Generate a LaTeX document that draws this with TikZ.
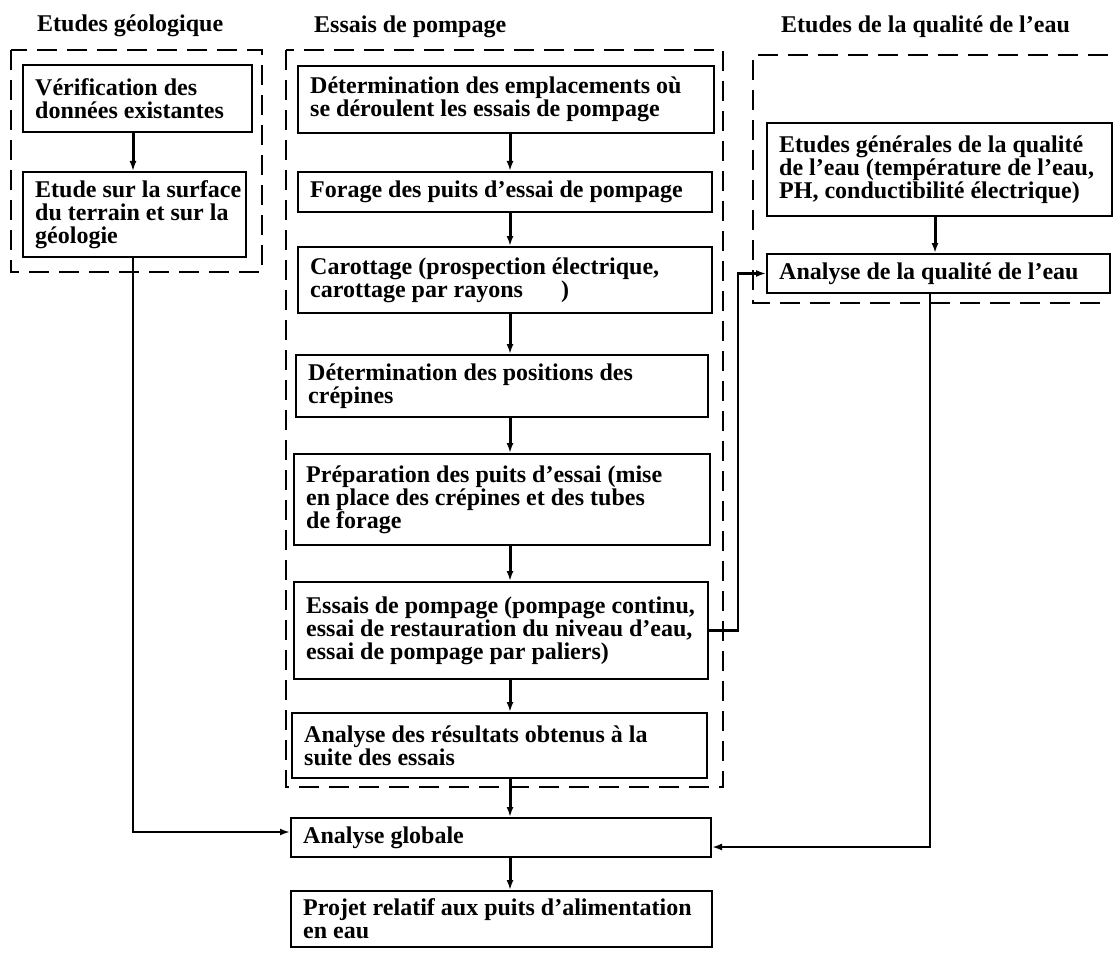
\documentclass[tikz,border=0pt]{standalone}
\usepackage{fontspec}
\setmainfont{Liberation Serif}
\usetikzlibrary{arrows.meta,calc}
\tikzset{
  box/.style={draw, line width=2pt, inner sep=0pt},
  txt/.style={anchor=west, align=left, inner sep=0pt, font=\bfseries\fontsize{24}{23}\selectfont},
  ttl/.style={anchor=base west, inner sep=0pt, font=\bfseries\fontsize{24}{23}\selectfont},
  grp/.style={line width=2.5pt, dash pattern=on 20pt off 10pt},
  arr/.style={line width=3pt, -{Latex[length=10pt,width=7pt]}},
  link/.style={line width=2.5pt, -{Latex[length=10pt,width=7pt]}}
}
\newcommand\mkbox[6]{%
  \node[box, minimum width={#4-#2}, minimum height={#5-#3}] (#1) at ({(#2+#4)/2},{(#3+#5)/2}) {};
  \node[txt] (#1t) at ([xshift=13pt]#1.west) {#6};}
\begin{document}
\begin{tikzpicture}[x=1pt,y=-1pt]
\useasboundingbox (0,0) rectangle (1115,952);
% titles
\node[ttl] (t1) at (37,32) {Etudes géologique};
\node[ttl] (t2) at (314,33) {Essais de pompage};
\node[ttl] (t3) at (781,33) {Etudes de la qualité de l’eau};
% group frames
\draw[grp] (11,50) rectangle (262,272);
\draw[grp] (286,50) rectangle (723,787);
\draw[grp] (1108,55) -- (753,55) -- (753,303) -- (1108,303);
% geology
\mkbox{v1}{23}{65}{252}{132}{Vérification des\\données existantes}
\mkbox{v2}{23}{172}{246}{257}{Etude sur la surface\\du terrain et sur la\\géologie}
% pumping
\mkbox{p1}{298}{66}{714}{133}{Détermination des emplacements où\\se déroulent les essais de pompage}
\mkbox{p2}{298}{172}{712}{212}{Forage des puits d’essai de pompage}
\mkbox{p3}{298}{247}{712}{313}{Carottage (prospection électrique,\\carottage par rayons\hspace{38pt})}
\mkbox{p4}{296}{355}{708}{417}{Détermination des positions des\\crépines}
\mkbox{p5}{294}{454}{710}{545}{Préparation des puits d’essai (mise\\en place des crépines et des tubes\\de forage}
\mkbox{p6}{294}{582}{708}{679}{Essais de pompage (pompage continu,\\essai de restauration du niveau d’eau,\\essai de pompage par paliers)}
\mkbox{p7}{292}{713}{707}{778}{Analyse des résultats obtenus à la\\suite des essais}
% water quality
\mkbox{q1}{767}{123}{1112}{216}{Etudes générales de la qualité\\de l’eau (température de l’eau,\\PH, conductibilité électrique)}
\mkbox{q2}{767}{254}{1110}{293}{Analyse de la qualité de l’eau}
% final
\mkbox{a1}{291}{818}{711}{857}{Analyse globale}
\mkbox{a2}{291}{891}{712}{947}{Projet relatif aux puits d’alimentation\\en eau}
% connector guide coordinates
\coordinate (cx) at (510,0);
\coordinate (lx) at (133,0);
\coordinate (rx) at (930,0);
\coordinate (qx) at (935,0);
\coordinate (mx) at (738,0);
% arrows
\draw[arr] (v1.south -| lx) -- (v2.north -| lx);
\draw[arr] (p1.south -| cx) -- (p2.north -| cx);
\draw[arr] (p2.south -| cx) -- (p3.north -| cx);
\draw[arr] (p3.south -| cx) -- (p4.north -| cx);
\draw[arr] (p4.south -| cx) -- (p5.north -| cx);
\draw[arr] (p5.south -| cx) -- (p6.north -| cx);
\draw[arr] (p6.south -| cx) -- (p7.north -| cx);
\draw[arr] (p7.south -| cx) -- (a1.north -| cx);
\draw[arr] (a1.south -| cx) -- (a2.north -| cx);
\draw[arr] (q1.south -| qx) -- (q2.north -| qx);
\draw[link] (v2.south -| lx) |- ([yshift=5.5pt]a1.west);
\draw[link] (q2.south -| rx) |- ([yshift=-9.5pt]a1.east);
\draw[link] (p6.east) -- (p6.east -| mx) |- (q2.west);
\end{tikzpicture}
\end{document}
